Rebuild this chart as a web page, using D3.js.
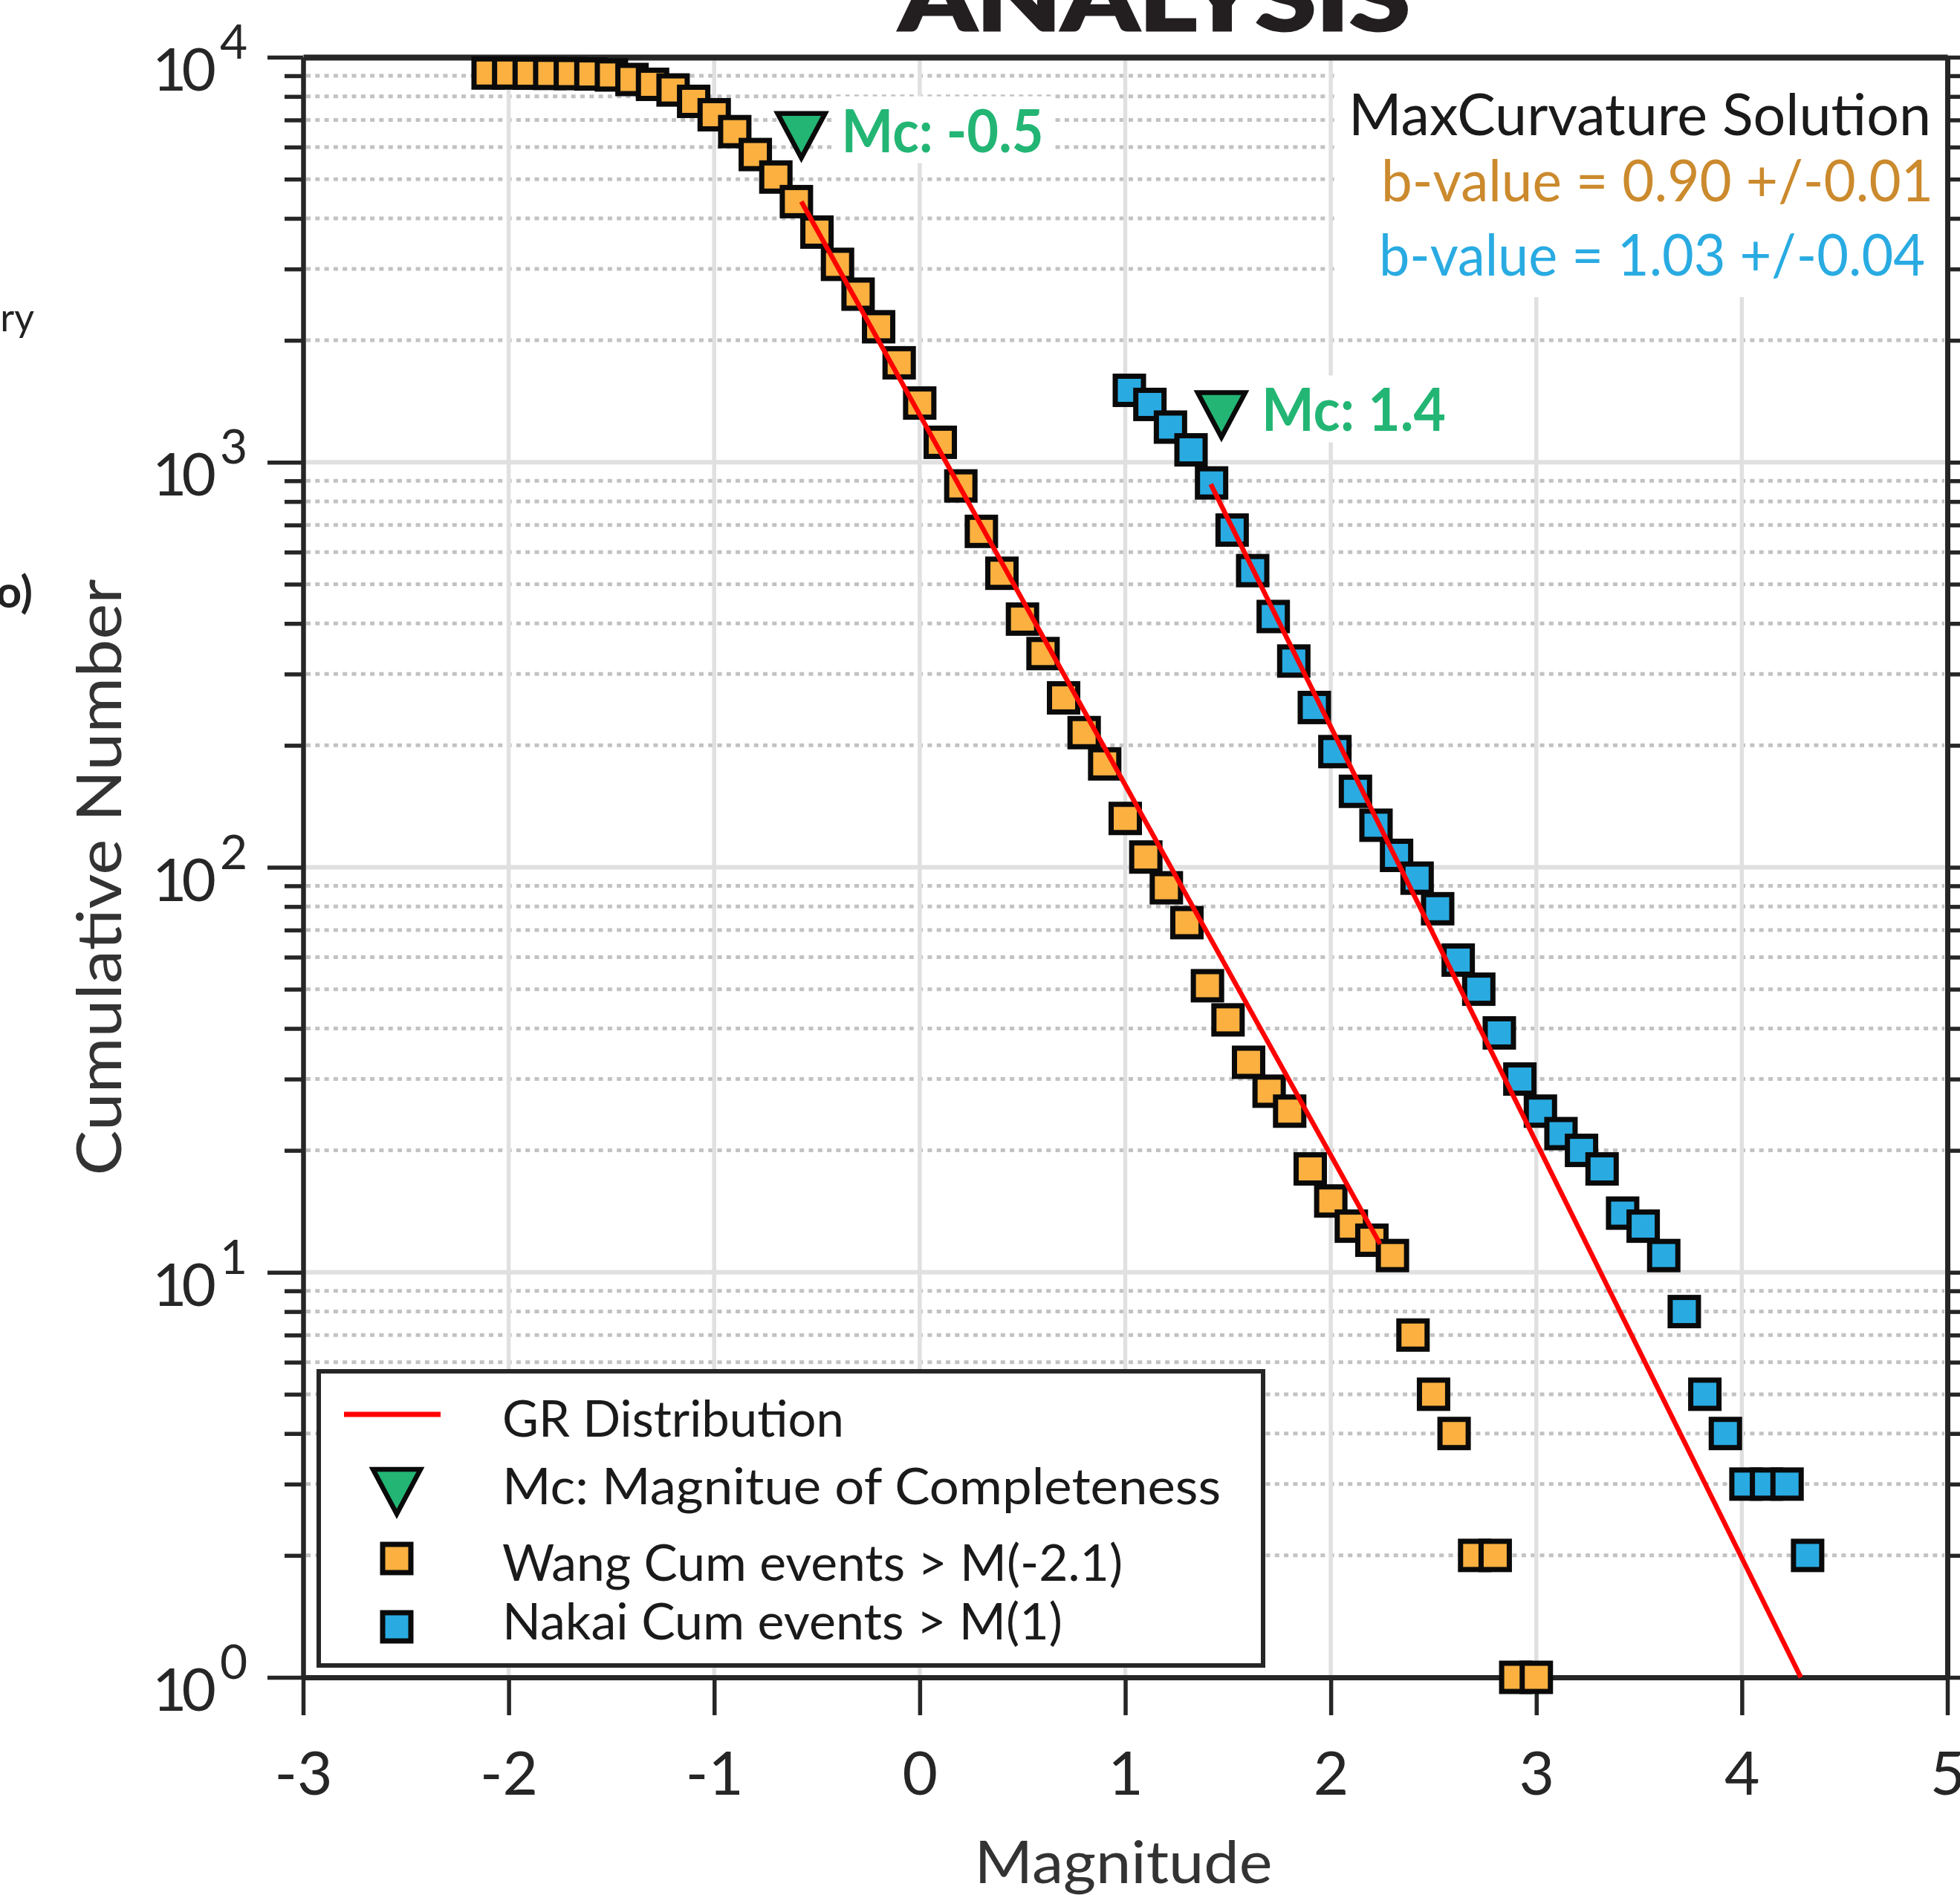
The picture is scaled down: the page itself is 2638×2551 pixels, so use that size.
<!DOCTYPE html>
<html>
<head>
<meta charset="utf-8">
<script src="https://cdn.jsdelivr.net/npm/d3@7"></script>
<style>
html, body { margin: 0; padding: 0; background: #ffffff; }
svg { display: block; }
text { font-family: Lato, "Open Sans", Roboto, sans-serif; }
</style>
</head>
<body>
<svg id="chart" width="2638" height="2551"></svg>
<script>
// ---------------- DATA ----------------
const wangMag = [-2.1,-2.0,-1.9,-1.8,-1.7,-1.6,-1.5,-1.4,-1.3,-1.2,-1.1,-1.0,-0.9,-0.8,-0.7,-0.6,-0.5,-0.4,-0.3,-0.2,-0.1,0.0,0.1,0.2,0.3,0.4,0.5,0.6,0.7,0.8,0.9,1.0,1.1,1.2,1.3,1.4,1.5,1.6,1.7,1.8,1.9,2.0,2.1,2.2,2.3,2.4,2.5,2.6,2.7,2.8,2.9,3.0];
const wangCount = [9140,9140,9130,9120,9110,9090,9040,8810,8570,8300,7780,7210,6550,5750,5060,4400,3700,3080,2600,2160,1760,1400,1120,874,675,532,410,337,262,215,180,132,106,89,73,51,42,33,28,25,18,15,13,12,11,7,5,4,2,2,1,1];

const nakaiMag = [1.02,1.12,1.22,1.32,1.42,1.52,1.62,1.72,1.82,1.92,2.02,2.12,2.22,2.32,2.42,2.52,2.62,2.72,2.82,2.92,3.02,3.12,3.22,3.32,3.42,3.52,3.62,3.72,3.82,3.92,4.02,4.12,4.22,4.32];
const nakaiCount = [1505,1389,1221,1073,889,680,540,416,323,248,193,154,127,107,94,79,59,50,39,30,25,22,20,18,14,13,11,8,5,4,3,3,3,2];

// GR distribution fits (two end points each)
const grWangMag = [-0.576, 2.24];
const grWangCount = [4401, 11.74];
const grNakaiMag = [1.416, 4.287];
const grNakaiCount = [883, 1];

// Magnitude of completeness markers
const mcMag = [-0.576, 1.468];
const mcCount = [6347, 1298];
const mcLabels = ["Mc: -0.5", "Mc: 1.4"];

// Axes
const xTicks = [-3,-2,-1,0,1,2,3,4,5];
const xTickLabels = ["-3","-2","-1","0","1","2","3","4","5"];
const yMajorTicks = [1,10,100,1000,10000];
const yExponents = ["0","1","2","3","4"];
const xLabel = "Magnitude";
const yLabel = "Cumulative Number";
const titleText = "ANALYSIS";

const annotationLines = ["MaxCurvature Solution", "b-value = 0.90 +/-0.01", "b-value = 1.03 +/-0.04"];
const legendLabels = ["GR Distribution", "Mc: Magnitue of Completeness", "Wang Cum events > M(-2.1)", "Nakai Cum events > M(1)"];

// ---------------- STYLE ----------------
const C = {
  orange: "#FBB040", blue: "#29ABE2", green: "#23B574", red: "#FF0000",
  axis: "#262626", gridMajor: "#e0e0e0", gridMinor: "#c2c2c2",
  annOrange: "#CB8A2D", annBlue: "#29ABE2", text: "#1a1a1a"
};
const M = { left: 408, right: 2621, top: 77, bottom: 2258 };

const svg = d3.select("#chart");
svg.append("rect").attr("width", 2638).attr("height", 2551).attr("fill", "#fff");

const x = d3.scaleLinear().domain([-3, 5]).range([M.left, M.right]);
const y = d3.scaleLog().domain([1, 10000]).range([M.bottom, M.top]);
const isMajor = v => Math.abs(Math.log10(v) - Math.round(Math.log10(v))) < 1e-9;
const minorY = y.ticks().filter(v => !isMajor(v));

// ---------------- TITLE / side fragments ----------------
svg.append("text").attr("x", 1210).attr("y", 41)
  .attr("font-size", 122).attr("font-weight", 900)
  .attr("fill", "#231f20").attr("stroke", "#231f20").attr("stroke-width", 3)
  .attr("textLength", 688).attr("lengthAdjust", "spacingAndGlyphs")
  .text(titleText);
svg.append("text").attr("x", 46).attr("y", 446).attr("text-anchor", "end")
  .attr("font-size", 52).attr("fill", "#222").text("ry");
svg.append("text").attr("x", 44).attr("y", 818).attr("text-anchor", "end")
  .attr("font-size", 60).attr("font-weight", 700).attr("fill", "#222").text("o)");

// ---------------- GRID ----------------
const gMinor = svg.append("g");
gMinor.selectAll("line").data(minorY).join("line")
  .attr("x1", M.left + 4).attr("x2", M.right - 4)
  .attr("y1", d => y(d)).attr("y2", d => y(d))
  .attr("stroke", C.gridMinor).attr("stroke-width", 5)
  .attr("stroke-dasharray", "6 6.3");

const gMajH = svg.append("g");
gMajH.selectAll("line").data(yMajorTicks.filter(v => v > 1 && v < 10000)).join("line")
  .attr("x1", M.left).attr("x2", M.right)
  .attr("y1", d => y(d)).attr("y2", d => y(d))
  .attr("stroke", C.gridMajor).attr("stroke-width", 6);

const gMajV = svg.append("g");
gMajV.selectAll("line").data(xTicks.filter(v => v > -3 && v < 5)).join("line")
  .attr("x1", d => x(d)).attr("x2", d => x(d))
  .attr("y1", M.top).attr("y2", M.bottom)
  .attr("stroke", C.gridMajor).attr("stroke-width", 5.5);

// ---------------- ANNOTATION BLOCK ----------------
const ann = svg.append("g");
const annBg = ann.append("rect").attr("fill", "#fff");
const annSpec = [
  { y: 182, fill: C.text, len: 784, right: 2599 },
  { y: 271, fill: C.annOrange, len: 743, right: 2602 },
  { y: 371, fill: C.annBlue, len: 735, right: 2591 }
];
annotationLines.forEach((t, i) => {
  ann.append("text")
    .attr("x", annSpec[i].right).attr("y", annSpec[i].y)
    .attr("text-anchor", "end").attr("font-size", 77).attr("font-weight", 400)
    .attr("fill", annSpec[i].fill)
    .attr("textLength", annSpec[i].len).attr("lengthAdjust", "spacingAndGlyphs")
    .text(t);
});
{
  const bb = ann.node().getBBox();
  annBg.attr("x", bb.x - 15).attr("y", M.top)
    .attr("width", M.right - (bb.x - 15)).attr("height", (bb.y + bb.height + 13) - M.top);
}

// ---------------- Mc LABELS (with white boxes) ----------------
const mcG = svg.append("g");
mcMag.forEach((m, i) => {
  const g = mcG.append("g");
  const bg = g.append("rect").attr("fill", "#fff");
  const t = g.append("text")
    .attr("x", x(m) + 54).attr("y", y(mcCount[i]) + 20)
    .attr("font-family", "'Liberation Sans', Arial, sans-serif")
    .attr("font-weight", 700).attr("font-size", 80).attr("fill", C.green)
    .attr("textLength", i === 0 ? 272 : 248).attr("lengthAdjust", "spacingAndGlyphs")
    .text(mcLabels[i]);
  const bb = t.node().getBBox();
  bg.attr("x", bb.x - 13).attr("y", bb.y + 4).attr("width", bb.width + 28).attr("height", bb.height - 6);
});

// ---------------- AXES ----------------
function styleAxis(g, sw) {
  g.select(".domain").attr("stroke", C.axis).attr("stroke-width", sw);
  g.selectAll(".tick line").attr("stroke", C.axis).attr("stroke-width", 5.5);
}
const gLmin = svg.append("g").attr("transform", `translate(${M.left},0)`)
  .call(d3.axisLeft(y).tickValues(minorY).tickSize(25).tickSizeOuter(0).tickFormat(""));
styleAxis(gLmin, 6);
const gLmaj = svg.append("g").attr("transform", `translate(${M.left},0)`)
  .call(d3.axisLeft(y).tickValues(yMajorTicks).tickSize(48).tickSizeOuter(0).tickFormat(""));
styleAxis(gLmaj, 6);
gLmaj.selectAll(".tick text").remove();
// y tick labels 10^n (one text each, superscript as tspan)
const yLab = svg.append("g");
yMajorTicks.forEach((v, i) => {
  const t = yLab.append("text").attr("x", 333).attr("y", y(v) + 45)
    .attr("text-anchor", "end").attr("fill", C.axis);
  t.append("tspan").attr("font-size", 80).attr("letter-spacing", "-7px").text("10");
  t.append("tspan").attr("font-size", 64).attr("dx", 12).attr("dy", -43).text(yExponents[i]);
});
const gRmin = svg.append("g").attr("transform", `translate(${M.right},0)`)
  .call(d3.axisRight(y).tickValues(minorY).tickSize(25).tickSizeOuter(0).tickFormat(""));
styleAxis(gRmin, 7);
const gRmaj = svg.append("g").attr("transform", `translate(${M.right},0)`)
  .call(d3.axisRight(y).tickValues(yMajorTicks).tickSize(48).tickSizeOuter(0).tickFormat(""));
styleAxis(gRmaj, 7);
const gT = svg.append("g").attr("transform", `translate(0,${M.top})`)
  .call(d3.axisTop(x).tickValues([]).tickSizeOuter(0));
styleAxis(gT, 8);
const gB = svg.append("g").attr("transform", `translate(0,${M.bottom})`)
  .call(d3.axisBottom(x).tickValues(xTicks).tickSize(51).tickSizeOuter(0).tickPadding(49)
    .tickFormat((d, i) => xTickLabels[i]));
styleAxis(gB, 7);
gB.selectAll(".tick text").attr("font-size", 82).attr("fill", C.axis)
  .attr("font-family", "Lato, 'Open Sans', sans-serif").attr("dy", "0.71em");

// axis titles
svg.append("text").attr("x", 1512).attr("y", 2535).attr("text-anchor", "middle")
  .attr("font-size", 80).attr("fill", "#333")
  .attr("textLength", 401).attr("lengthAdjust", "spacingAndGlyphs").text(xLabel);
svg.append("text").attr("transform", "translate(163,1181) rotate(-90)")
  .attr("text-anchor", "middle").attr("font-size", 84).attr("fill", "#333")
  .attr("textLength", 803).attr("lengthAdjust", "spacingAndGlyphs").text(yLabel);

// ---------------- DATA ----------------
const SQ = 38;
function squares(mags, counts, fill) {
  svg.append("g").selectAll("rect").data(mags.map((m, i) => [m, counts[i]])).join("rect")
    .attr("x", d => x(d[0]) - SQ / 2).attr("y", d => y(d[1]) - SQ / 2)
    .attr("width", SQ).attr("height", SQ)
    .attr("fill", fill).attr("stroke", "#0a0a0a").attr("stroke-width", 7);
}
squares(wangMag, wangCount, C.orange);
squares(nakaiMag, nakaiCount, C.blue);

const line = d3.line().x(d => x(d[0])).y(d => y(d[1]));
[[grWangMag, grWangCount], [grNakaiMag, grNakaiCount]].forEach(([ms, ns]) => {
  svg.append("path").datum(ms.map((m, i) => [m, ns[i]]))
    .attr("d", line).attr("fill", "none").attr("stroke", C.red).attr("stroke-width", 6.5);
});

function triPath(cx, cy) {
  return `M${cx - 32},${cy - 30}L${cx + 32},${cy - 30}L${cx},${cy + 30}Z`;
}
svg.append("g").selectAll("path").data(mcMag.map((m, i) => [m, mcCount[i]])).join("path")
  .attr("d", d => triPath(x(d[0]), y(d[1]) - 2))
  .attr("fill", C.green).attr("stroke", "#0a0a0a").attr("stroke-width", 6.5)
  .attr("stroke-linejoin", "miter");

// ---------------- LEGEND ----------------
const leg = svg.append("g");
leg.append("rect").attr("x", 429).attr("y", 1846).attr("width", 1271).attr("height", 396)
  .attr("fill", "#fff").attr("stroke", C.axis).attr("stroke-width", 6);
leg.append("line").attr("x1", 463).attr("x2", 593).attr("y1", 1904).attr("y2", 1904)
  .attr("stroke", C.red).attr("stroke-width", 7);
leg.append("path").attr("d", triPath(534, 2008))
  .attr("fill", C.green).attr("stroke", "#0a0a0a").attr("stroke-width", 6.5);
leg.append("rect").attr("x", 534 - SQ / 2).attr("y", 2098 - SQ / 2).attr("width", SQ).attr("height", SQ)
  .attr("fill", C.orange).attr("stroke", "#0a0a0a").attr("stroke-width", 7);
leg.append("rect").attr("x", 534 - SQ / 2).attr("y", 2190 - SQ / 2).attr("width", SQ).attr("height", SQ)
  .attr("fill", C.blue).attr("stroke", "#0a0a0a").attr("stroke-width", 7);
const legBase = [1934, 2025, 2128, 2207];
const legLen = [460, 967, 835, 754];
legendLabels.forEach((t, i) => {
  leg.append("text").attr("x", 676).attr("y", legBase[i])
    .attr("font-size", 68).attr("fill", C.text)
    .attr("textLength", legLen[i]).attr("lengthAdjust", "spacingAndGlyphs")
    .text(t);
});
</script>
</body>
</html>
